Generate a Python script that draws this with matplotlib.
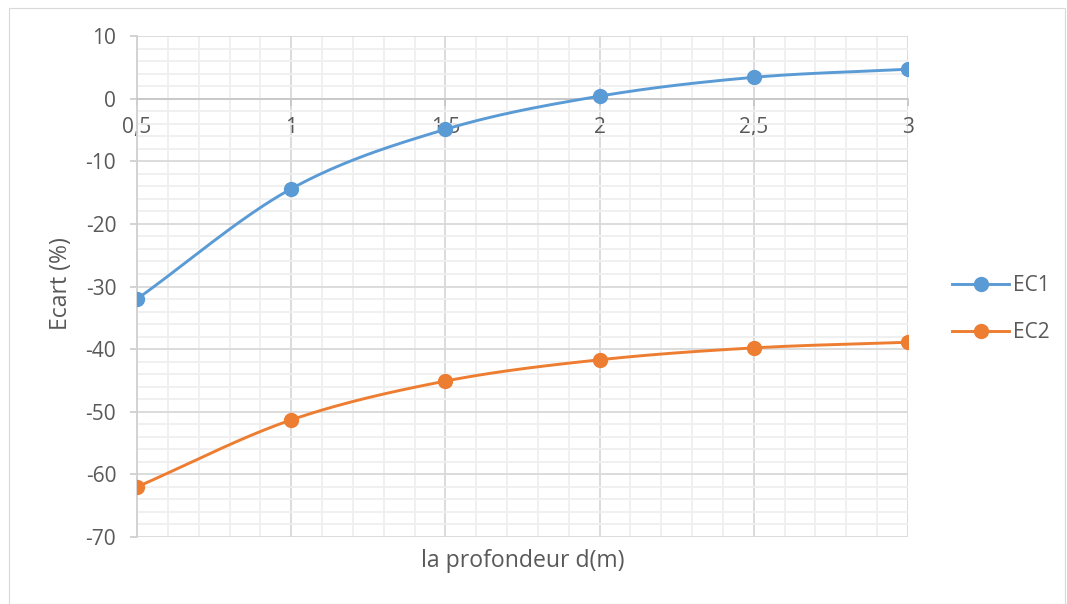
import numpy as np
import matplotlib
matplotlib.use("Agg")
import matplotlib.pyplot as plt
from matplotlib.patches import Rectangle
from matplotlib.lines import Line2D
from matplotlib.ticker import MultipleLocator, FixedLocator

# Data
depth = [0.5, 1.0, 1.5, 2.0, 2.5, 3.0]
ec1 = [-32.0, -14.4, -4.9, 0.4, 3.4, 4.7]
ec2 = [-62.0, -51.3, -45.1, -41.7, -39.8, -38.9]
x_ticks = [0.5, 1.0, 1.5, 2.0, 2.5, 3.0]
x_tick_labels = ["0,5", "1", "1,5", "2", "2,5", "3"]
series_names = ["EC1", "EC2"]

BLUE = "#5B9BD5"
ORANGE = "#ED7D31"
TEXT = "#595959"

plt.rcParams["font.family"] = ["Open Sans", "DejaVu Sans"]
plt.rcParams["axes.unicode_minus"] = False


def smooth(xs, ys, n=40):
    """Catmull-Rom style smoothing through the points (like spreadsheet smoothed lines)."""
    xs = np.asarray(xs, float)
    ys = np.asarray(ys, float)
    px = np.concatenate([[2 * xs[0] - xs[1]], xs, [2 * xs[-1] - xs[-2]]])
    py = np.concatenate([[2 * ys[0] - ys[1]], ys, [2 * ys[-1] - ys[-2]]])
    out_x, out_y = [], []
    t = np.linspace(0, 1, n)
    for i in range(1, len(px) - 2):
        p0, p1, p2, p3 = [np.array([px[j], py[j]]) for j in (i - 1, i, i + 1, i + 2)]
        c1 = p1 + (p2 - p0) / 6.0
        c2 = p2 - (p3 - p1) / 6.0
        b = ((1 - t) ** 3)[:, None] * p1 + (3 * (1 - t) ** 2 * t)[:, None] * c1 \
            + (3 * (1 - t) * t ** 2)[:, None] * c2 + (t ** 3)[:, None] * p2
        out_x.extend(b[:, 0])
        out_y.extend(b[:, 1])
    return np.array(out_x), np.array(out_y)


fig = plt.figure(figsize=(10.67, 6.04), dpi=100)
fig.add_artist(Rectangle((0.008, 0.0), 0.99, 0.987, transform=fig.transFigure,
                         fill=False, edgecolor="#D9D9D9", linewidth=0.8))
ax = fig.add_axes([0.1284, 0.1109, 0.851 - 0.1284, 0.9404 - 0.1109])

ax.set_xlim(0.5, 3.0)
ax.set_ylim(-70, 10)

# Grid
ax.xaxis.set_major_locator(FixedLocator(x_ticks))
ax.xaxis.set_minor_locator(MultipleLocator(0.1))
ax.yaxis.set_major_locator(MultipleLocator(10))
ax.yaxis.set_minor_locator(MultipleLocator(2))
ax.grid(which="minor", color="#EFEFEF", linewidth=1.3, zorder=0)
ax.grid(which="major", color="#D9D9D9", linewidth=1.3, zorder=0)
ax.set_axisbelow(True)

for s in ["top", "right"]:
    ax.spines[s].set_visible(False)
ax.spines["left"].set_color("#D0D0D0")
ax.spines["left"].set_linewidth(1.3)
ax.spines["bottom"].set_color("#C8C8C8")
ax.spines["bottom"].set_linewidth(1.3)
ax.spines["bottom"].set_position(("data", 0))

ax.tick_params(axis="y", which="major", length=5, width=1.3, color="#D0D0D0",
               labelsize=15, labelcolor=TEXT, pad=10)
ax.tick_params(axis="x", which="major", length=5, width=1.3, direction="out",
               color="#C8C8C8", labelsize=15, labelcolor=TEXT, pad=8)
ax.tick_params(which="minor", length=0)
ax.set_xticklabels(x_tick_labels)

for ys, col in [(ec1, BLUE), (ec2, ORANGE)]:
    sx, sy = smooth(depth, ys)
    ax.plot(sx, sy, color=col, linewidth=2.1, solid_capstyle="round", zorder=3)
    ax.plot(depth, ys, linestyle="none", marker="o", markersize=10, color=col, zorder=4)

# Legend
handles = [Line2D([], [], color=BLUE, linewidth=2.1, marker="o", markersize=10),
           Line2D([], [], color=ORANGE, linewidth=2.1, marker="o", markersize=10)]
fig.legend(handles, series_names, loc="center left", bbox_to_anchor=(0.875, 0.488),
           frameon=False, fontsize=15, labelcolor=TEXT, handlelength=2.7,
           handletextpad=0.2, labelspacing=1.25)

fig.text(0.49, 0.072, "la profondeur d(m)", ha="center", va="center",
         fontsize=16.6, color=TEXT)
fig.text(0.057, 0.53, "Ecart (%)", ha="center", va="center", rotation=90,
         fontsize=16.6, color=TEXT)

fig.savefig("out.png", dpi=100)
